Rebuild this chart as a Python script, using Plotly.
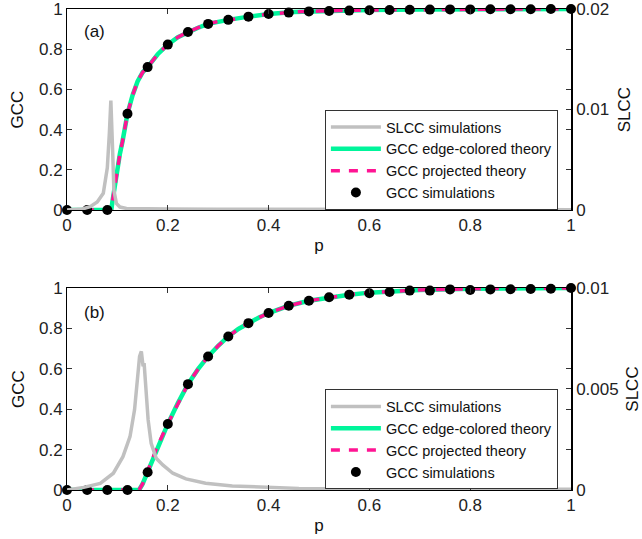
import plotly.graph_objects as go

# ---------------- data ----------------
p_sim = [0, 0.04, 0.08, 0.12, 0.16, 0.20, 0.24, 0.28, 0.32, 0.36, 0.40, 0.44, 0.48,
         0.52, 0.56, 0.60, 0.64, 0.68, 0.72, 0.76, 0.80, 0.84, 0.88, 0.92, 0.96, 1.00]

# panel (a)
gcc_sim_a = [0, 0, 0, 0.479, 0.711, 0.823, 0.886, 0.926, 0.946, 0.962, 0.975, 0.982, 0.988,
             0.990, 0.992, 0.994, 0.995, 0.996, 0.997, 0.998, 0.998, 0.999, 0.999, 0.999, 1.0, 1.0]
p_th_a = [0, 0.088, 0.09, 0.095, 0.10, 0.105, 0.11, 0.12, 0.13, 0.14, 0.15, 0.16, 0.18, 0.20,
          0.22, 0.24, 0.26, 0.28, 0.30, 0.32, 0.36, 0.40, 0.45, 0.50, 0.60, 0.70, 0.80, 0.90, 1.0]
gcc_th_a = [0, 0, 0.04, 0.13, 0.21, 0.28, 0.34, 0.479, 0.57, 0.64, 0.685, 0.711, 0.775, 0.823,
            0.86, 0.886, 0.907, 0.926, 0.938, 0.946, 0.962, 0.975, 0.985, 0.990, 0.995, 0.998, 0.999, 1.0, 1.0]
p_slcc_a = [0, 0.03, 0.046, 0.06, 0.072, 0.080, 0.084, 0.087, 0.0905, 0.093, 0.098, 0.105, 0.118,
            0.15, 0.2, 0.3, 0.5, 0.7, 1.0]
slcc_a = [0, 0.0001, 0.00034, 0.0008, 0.00166, 0.0042, 0.0076, 0.0109, 0.0060, 0.0020, 0.00066,
          0.0003, 0.00016, 0.00012, 0.0001, 0.00008, 0.00006, 0.00005, 0.00004]

# panel (b)
gcc_sim_b = [0, 0, 0, 0, 0.088, 0.327, 0.524, 0.661, 0.760, 0.826, 0.876, 0.912, 0.937,
             0.954, 0.967, 0.974, 0.980, 0.987, 0.987, 0.993, 0.990, 0.993, 0.994, 0.995, 0.996, 1.0]
p_th_b = [0, 0.143, 0.15, 0.16, 0.17, 0.18, 0.20, 0.22, 0.24, 0.26, 0.28, 0.30, 0.32, 0.34,
          0.36, 0.38, 0.40, 0.44, 0.48, 0.52, 0.56, 0.60, 0.65, 0.70, 0.80, 0.90, 1.0]
gcc_th_b = [0, 0, 0.03, 0.09, 0.155, 0.22, 0.327, 0.43, 0.524, 0.598, 0.661, 0.714, 0.760, 0.797,
            0.826, 0.853, 0.876, 0.912, 0.937, 0.954, 0.967, 0.977, 0.985, 0.990, 0.996, 0.999, 1.0]
p_slcc_b = [0, 0.033, 0.066, 0.092, 0.111, 0.125, 0.134, 0.141, 0.144, 0.1475, 0.151, 0.153,
            0.156, 0.161, 0.167, 0.177, 0.19, 0.21, 0.236, 0.275, 0.328, 0.393, 0.46, 0.6, 0.8, 1.0]
slcc_b = [0, 0.00013, 0.00033, 0.00083, 0.00165, 0.00264, 0.00397, 0.00562, 0.00661, 0.00686,
          0.00612, 0.00628, 0.00512, 0.00347, 0.00231, 0.00157, 0.00124, 0.00083, 0.00055,
          0.00033, 0.0002, 0.00013, 0.00008, 0.00005, 0.00004, 0.00004]

x_ticks = [0, 0.2, 0.4, 0.6, 0.8, 1]
x_ticktext = ["0", "0.2", "0.4", "0.6", "0.8", "1"]
gcc_ticks = [0, 0.2, 0.4, 0.6, 0.8, 1]
gcc_ticktext = ["0", "0.2", "0.4", "0.6", "0.8", "1"]
slcc_ticks_a = [0, 0.004, 0.008, 0.01, 0.012, 0.016, 0.02]
slcc_ticktext_a = ["0", "", "", "0.01", "", "", "0.02"]
slcc_ticks_b = [0, 0.002, 0.004, 0.005, 0.006, 0.008, 0.01]
slcc_ticktext_b = ["0", "", "", "0.005", "", "", "0.01"]

names = ["SLCC simulations", "GCC edge-colored theory", "GCC projected theory", "GCC simulations"]

# ---------------- styles ----------------
GRAY = "#C0C0C0"
GREEN = "#00F59B"
PINK = "#FF1493"
FONT = "Liberation Sans, Arial, sans-serif"

fig = go.Figure()

def add_panel(xa, ya, ya2, leg, p_sl, sl, p_th, g_th, g_sim):
    fig.add_trace(go.Scatter(x=p_sl, y=sl, mode="lines", name=names[0],
                             line=dict(color=GRAY, width=3.5), xaxis=xa, yaxis=ya2, legend=leg))
    fig.add_trace(go.Scatter(x=p_th, y=g_th, mode="lines", name=names[1],
                             line=dict(color=GREEN, width=4.5), xaxis=xa, yaxis=ya, legend=leg))
    fig.add_trace(go.Scatter(x=p_th, y=g_th, mode="lines", name=names[2],
                             line=dict(color=PINK, width=3.5, dash="9px,9px"), xaxis=xa, yaxis=ya, legend=leg))
    fig.add_trace(go.Scatter(x=p_sim, y=g_sim, mode="markers", name=names[3], cliponaxis=False,
                             marker=dict(color="black", size=10), xaxis=xa, yaxis=ya, legend=leg))

add_panel("x", "y", "y2", "legend", p_slcc_a, slcc_a, p_th_a, gcc_th_a, gcc_sim_a)
add_panel("x2", "y3", "y4", "legend2", p_slcc_b, slcc_b, p_th_b, gcc_th_b, gcc_sim_b)

top_dom = [0.582, 1.0]
bot_dom = [0.0, 0.42]

xcommon = dict(range=[0, 1], tickvals=x_ticks, ticktext=x_ticktext, ticks="inside", ticklen=5,
               showline=True, linecolor="black", linewidth=1, mirror="ticks", showgrid=False,
               zeroline=False, tickfont=dict(size=17, color="#222"), tickcolor="#333",
               automargin=False, ticklabeloverflow="allow",
               title=dict(text="p", font=dict(size=17), standoff=4))
ycommon = dict(range=[0, 1], tickvals=gcc_ticks, ticktext=gcc_ticktext, ticks="inside", ticklen=5,
               showline=True, linecolor="black", linewidth=1, showgrid=False, zeroline=False,
               tickfont=dict(size=17, color="#222"), tickcolor="#333", automargin=False,
               ticklabeloverflow="allow",
               title=dict(text="GCC", font=dict(size=17), standoff=10))
y2common = dict(ticks="inside", ticklen=5, showline=True, linecolor="black", linewidth=1.5,
                showgrid=False, zeroline=False, side="right", tickfont=dict(size=17, color="#222"),
                tickcolor="#333", automargin=False, ticklabeloverflow="allow")

legcommon = dict(bgcolor="white", bordercolor="#333", borderwidth=1,
                 font=dict(size=14.5, family=FONT, color="#111"),
                 xanchor="right", yanchor="middle", x=0.974, tracegroupgap=0, itemwidth=50)

fig.update_layout(
    width=642, height=539,
    margin=dict(l=67, r=71, t=9, b=49, autoexpand=False),
    paper_bgcolor="white", plot_bgcolor="white",
    font=dict(family=FONT, color="#111"),
    showlegend=True,
    xaxis=dict(domain=[0, 1], anchor="y", **xcommon),
    yaxis=dict(domain=top_dom, anchor="x", **ycommon),
    yaxis2=dict(overlaying="y", anchor="x", range=[0, 0.02], tickvals=slcc_ticks_a,
                ticktext=slcc_ticktext_a,
                title=dict(text="SLCC", font=dict(size=17), standoff=10), **y2common),
    xaxis2=dict(domain=[0, 1], anchor="y3", **xcommon),
    yaxis3=dict(domain=bot_dom, anchor="x2", **ycommon),
    yaxis4=dict(overlaying="y3", anchor="x2", range=[0, 0.01], tickvals=slcc_ticks_b,
                ticktext=slcc_ticktext_b,
                title=dict(text="SLCC", font=dict(size=17), standoff=13), **y2common),
    legend=dict(y=0.686, **legcommon),
    legend2=dict(y=0.105, **legcommon),
    annotations=[
        dict(text="(a)", x=0.03, y=0.886, xref="x", yref="y", showarrow=False,
             font=dict(size=17, family=FONT), xanchor="left", yanchor="middle"),
        dict(text="(b)", x=0.03, y=0.88, xref="x2", yref="y3", showarrow=False,
             font=dict(size=17, family=FONT), xanchor="left", yanchor="middle"),
    ],
)

fig.write_html("out.html", config={"displayModeBar": False},
               post_script="document.body.style.margin='0';")
